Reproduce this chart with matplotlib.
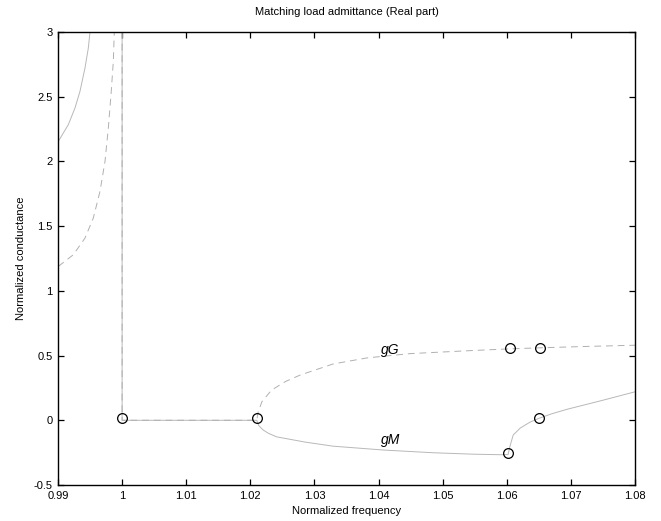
import numpy as np
import matplotlib
matplotlib.use("Agg")
import matplotlib.pyplot as plt

plt.rcParams['font.family'] = ['Liberation Sans', 'DejaVu Sans']

nan = np.nan

# gM (solid): branch below f=1, jump at f=1, then the matched branch
gM_f = [0.99005, 0.99161, 0.99265, 0.99343, 0.99421, 0.99473, 0.99499, nan,
        1.0000, 1.0000, 1.0210, 1.0213, 1.0220, 1.0228, 1.0241, 1.0285,
        1.0329, 1.0408, 1.0486, 1.0548, 1.0590, 1.0602, 1.0605, 1.0610,
        1.0621, 1.0636, 1.0650, 1.0670, 1.0694, 1.0746, 1.0800]
gM_g = [2.155, 2.284, 2.413, 2.542, 2.722, 2.876, 3.000, nan,
        3.00, 0.00, 0.00, -0.040, -0.075, -0.100, -0.128, -0.168,
        -0.200, -0.230, -0.251, -0.262, -0.266, -0.265, -0.200, -0.114,
        -0.060, -0.015, 0.015, 0.050, 0.085, 0.150, 0.220]

# gG (dashed)
gG_f = [0.99005, 0.99239, 0.99421, 0.99551, 0.99655, 0.99733, 0.99785,
        0.99827, 0.99863, 0.99878, nan,
        1.0000, 1.0000, 1.0210, 1.0212, 1.0218, 1.0233, 1.0255, 1.0278,
        1.0329, 1.0382, 1.0449, 1.0538, 1.0605, 1.0652, 1.0720, 1.0800]
gG_g = [1.189, 1.279, 1.408, 1.563, 1.769, 2.000, 2.258,
        2.516, 2.774, 3.000, nan,
        3.00, 0.00, 0.00, 0.060, 0.143, 0.233, 0.300, 0.350,
        0.435, 0.482, 0.515, 0.537, 0.552, 0.560, 0.570, 0.580]

# marked points
mark_f = [1.0000, 1.0210, 1.0605, 1.0652, 1.0602, 1.0650]
mark_g = [0.020, 0.015, 0.558, 0.558, -0.255, 0.016]

xticks = [0.99, 1.0, 1.01, 1.02, 1.03, 1.04, 1.05, 1.06, 1.07, 1.08]
xticklabels = ['0.99', '1', '1.01', '1.02', '1.03', '1.04', '1.05', '1.06', '1.07', '1.08']
yticks = [-0.5, 0, 0.5, 1, 1.5, 2, 2.5, 3]
yticklabels = ['-0.5', '0', '0.5', '1', '1.5', '2', '2.5', '3']

fig = plt.figure(figsize=(6.61, 5.21), dpi=100)
ax = fig.add_axes([58/661, 36/521, (635-58)/661, (485-32)/521])

ax.plot(gM_f, gM_g, color='#b8b8b8', lw=0.7, solid_joinstyle='round')
ax.plot(gG_f, gG_g, color='#b0b0b0', lw=0.7, dashes=(7, 5))
ax.plot(mark_f, mark_g, linestyle='none', marker='o', ms=7, mfc='none',
        mec='black', mew=0.9)

ax.text(1.0418, 0.545, 'gG', style='italic', fontsize=10, ha='center', va='center')
ax.text(1.0418, -0.155, 'gM', style='italic', fontsize=10, ha='center', va='center')

ax.set_xlim(0.99, 1.08)
ax.set_ylim(-0.5, 3)
ax.set_xticks(xticks)
ax.set_xticklabels(xticklabels)
ax.set_yticks(yticks)
ax.set_yticklabels(yticklabels)
ax.tick_params(direction='in', length=4.5, width=0.9, labelsize=8,
               top=True, right=True, pad=4)
for s in ax.spines.values():
    s.set_linewidth(1.0)

ax.set_title('Matching load admittance (Real part)', fontsize=8, pad=12)
ax.set_xlabel('Normalized frequency', fontsize=8, labelpad=4)
ax.set_ylabel('Normalized conductance', fontsize=8, labelpad=5)

fig.savefig('out.png', dpi=100)
